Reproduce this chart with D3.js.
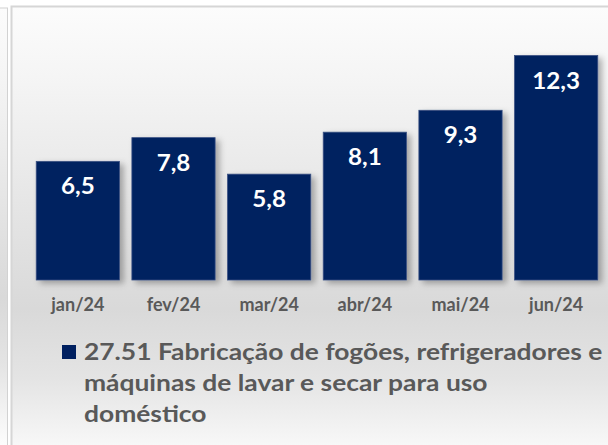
<!DOCTYPE html>
<html>
<head>
<meta charset="utf-8">
<script src="https://cdn.jsdelivr.net/npm/d3@7"></script>
<style>
  html, body { margin: 0; padding: 0; background: #ffffff; }
  svg { display: block; }
</style>
</head>
<body>
<div id="chart"></div>
<script>
// chart data
const months = ["jan/24", "fev/24", "mar/24", "abr/24", "mai/24", "jun/24"];
const values = [6.5, 7.8, 5.8, 8.1, 9.3, 12.3];
const valueLabels = ["6,5", "7,8", "5,8", "8,1", "9,3", "12,3"];
const legendLines = [
  "27.51 Fabricação de fogões, refrigeradores e",
  "máquinas de lavar e secar para uso",
  "doméstico"
];

const W = 608, H = 445;
const font = "Lato, 'DejaVu Sans', sans-serif";

const svg = d3.select("#chart")
  .append("svg")
  .attr("width", W)
  .attr("height", H);

const defs = svg.append("defs");

// background gradient: light at top, grey near the axis, light again at bottom
const bg = defs.append("linearGradient")
  .attr("id", "bg")
  .attr("x1", 0).attr("y1", 0).attr("x2", 0).attr("y2", 1);
bg.append("stop").attr("offset", "0%").attr("stop-color", "#fcfcfc");
bg.append("stop").attr("offset", "15%").attr("stop-color", "#f5f5f5");
bg.append("stop").attr("offset", "65%").attr("stop-color", "#d9d9d9");
bg.append("stop").attr("offset", "80%").attr("stop-color", "#e4e4e4");
bg.append("stop").attr("offset", "100%").attr("stop-color", "#ffffff");

// soft shadow under bars
const shadow = defs.append("filter")
  .attr("id", "shadow")
  .attr("x", "-20%").attr("y", "-20%")
  .attr("width", "150%").attr("height", "150%");
shadow.append("feDropShadow")
  .attr("dx", 4).attr("dy", 3)
  .attr("stdDeviation", 3)
  .attr("flood-color", "#000")
  .attr("flood-opacity", 0.3);

// left neighbour panel edge
svg.append("rect")
  .attr("x", -2).attr("y", 8)
  .attr("width", 9.5).attr("height", H)
  .attr("fill", "url(#bg)")
  .attr("stroke", "#d2d2d2")
  .attr("stroke-width", 1);

// main chart frame
svg.append("rect")
  .attr("x", 11.5).attr("y", 6.5)
  .attr("width", W + 20).attr("height", H + 20)
  .attr("fill", "url(#bg)")
  .attr("stroke", "#d6d6d6")
  .attr("stroke-width", 2);

// scales
const x = d3.scaleBand()
  .domain(months)
  .range([30, 604])
  .paddingInner(0.13)
  .paddingOuter(0.065);

const y = d3.scaleLinear()
  .domain([0, 14])
  .range([280, 280 - 18.25 * 14]);

// bars
svg.append("g")
  .selectAll("rect")
  .data(values)
  .join("rect")
  .attr("x", (d, i) => x(months[i]))
  .attr("y", d => y(d))
  .attr("width", x.bandwidth())
  .attr("height", d => y(0) - y(d))
  .attr("fill", "#002060")
  .attr("stroke", "#3b5283")
  .attr("stroke-width", 0.8)
  .attr("filter", "url(#shadow)");

// value labels inside bars
svg.append("g")
  .selectAll("text")
  .data(values)
  .join("text")
  .attr("transform", (d, i) =>
    "translate(" + (x(months[i]) + x.bandwidth() / 2) + "," + (y(d) + 33) + ") scale(1.1,1)")
  .attr("text-anchor", "middle")
  .attr("fill", "#ffffff")
  .style("font-family", font)
  .style("font-weight", "bold")
  .style("font-size", "22px")
  .text((d, i) => valueLabels[i]);

// x axis (labels only)
const xAxis = d3.axisBottom(x).tickSize(0).tickPadding(0);
const gx = svg.append("g")
  .attr("transform", "translate(0,298)")
  .call(xAxis);
gx.select(".domain").remove();
gx.selectAll("text")
  .attr("dy", "0.71em")
  .attr("fill", "#595959")
  .style("font-family", font)
  .style("font-weight", "bold")
  .style("font-size", "18px");

// legend
const legend = svg.append("g").attr("transform", "translate(62,345)");
legend.append("rect")
  .attr("width", 14).attr("height", 14)
  .attr("fill", "#002060");
legend.append("g")
  .attr("transform", "translate(22,0) scale(1.2,1)")
  .selectAll("text")
  .data(legendLines)
  .join("text")
  .attr("x", 0)
  .attr("y", (d, i) => 15 + i * 31)
  .attr("fill", "#595959")
  .style("font-family", font)
  .style("font-weight", "bold")
  .style("font-size", "22px")
  .text(d => d);
</script>
</body>
</html>
